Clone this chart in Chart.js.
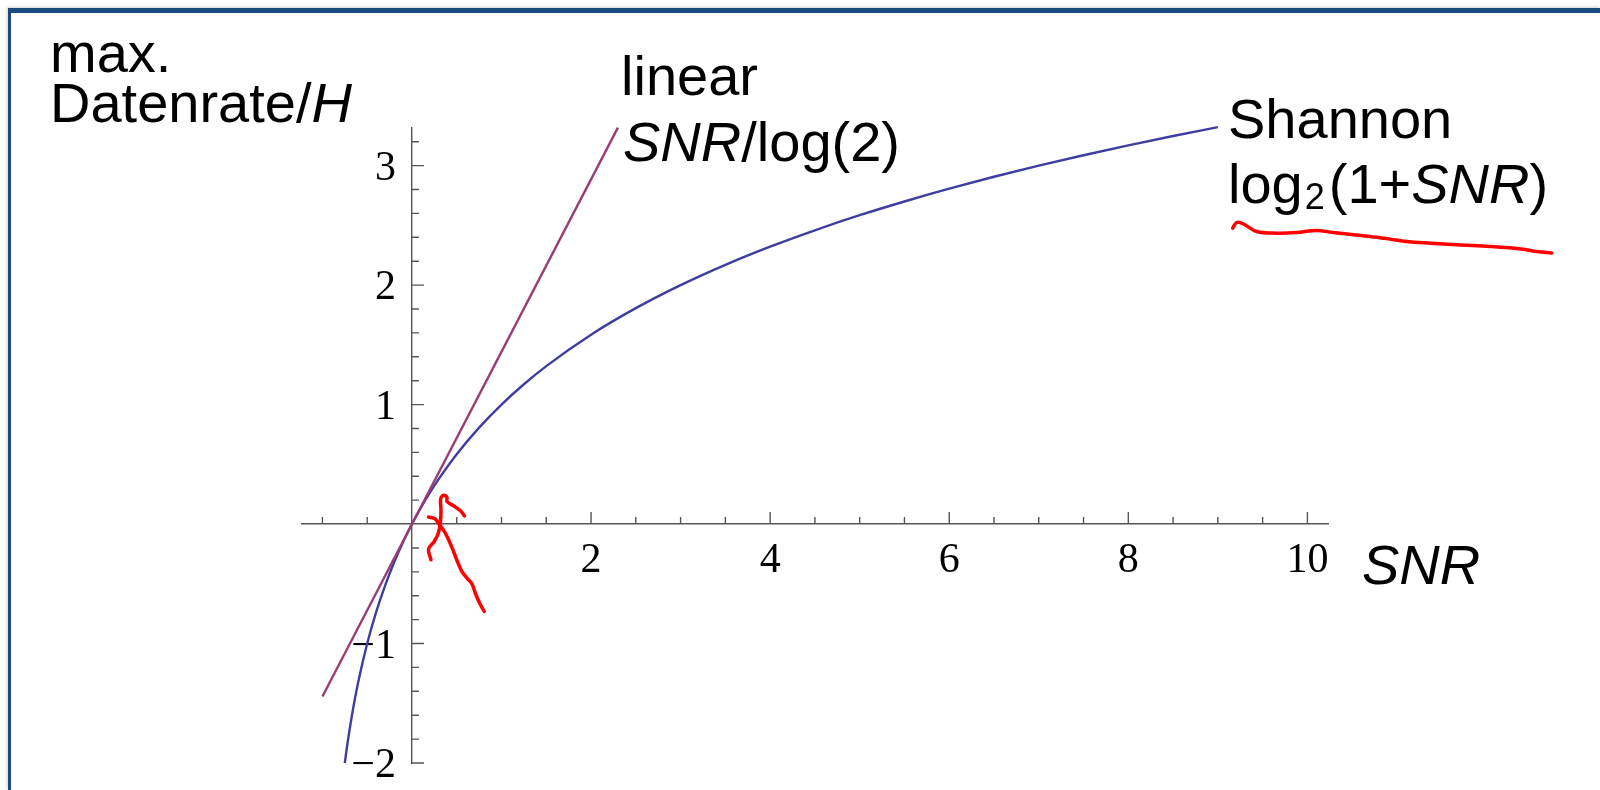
<!DOCTYPE html>
<html>
<head>
<meta charset="utf-8">
<script src="https://cdn.jsdelivr.net/npm/chart.js@4.4.1/dist/chart.umd.min.js"></script>
<style>
  html, body { margin:0; padding:0; background:#fff; width:1600px; height:790px; overflow:hidden; }
  #frame { position:absolute; left:8px; top:8px; width:1592px; height:782px; box-sizing:border-box;
           border-top:5px solid #1b4a7f; border-left:3px solid #1b4a7f;
           box-shadow:-1px -1px 3px rgba(0,0,0,0.18); }
  #c { position:absolute; left:0; top:0; }
  .lbl { position:absolute; font-family:"Liberation Sans", Arial, sans-serif; font-size:56px; line-height:56px;
         color:#000; white-space:nowrap; }
  .sub { font-size:36px; position:relative; top:6px; margin-left:2px; margin-right:4px; }
</style>
</head>
<body>
<div id="frame"></div>
<canvas id="c" width="1600" height="790"></canvas>
<div class="lbl" style="left:50px; top:25px;">max.</div>
<div class="lbl" style="left:50px; top:75px;">Datenrate/<i>H</i></div>
<div class="lbl" style="left:621px; top:48px;">linear</div>
<div class="lbl" style="left:623px; top:114px;"><i>SNR</i>/log(2)</div>
<div class="lbl" style="left:1228px; top:91px;">Shannon</div>
<div class="lbl" style="left:1228px; top:156px;">log<span class="sub">2</span>(1+<i>SNR</i>)</div>
<div class="lbl" style="left:1362px; top:537px;"><i>SNR</i></div>
<script>
// ---- data ----
const shannonX = [-0.75, -0.72, -0.7, -0.65, -0.6, -0.5, -0.4, -0.3, -0.2, -0.1, 0, 0.1, 0.2, 0.3, 0.5, 0.75, 1, 1.25, 1.5, 2, 2.5, 3, 3.5, 4, 4.5, 5, 5.5, 6, 6.5, 7, 7.5, 8, 8.5, 9];
const shannonY = [-2.0, -1.837, -1.737, -1.515, -1.322, -1.0, -0.737, -0.515, -0.322, -0.152, 0, 0.1375, 0.263, 0.3785, 0.585, 0.807, 1.0, 1.170, 1.322, 1.585, 1.807, 2.0, 2.170, 2.322, 2.459, 2.585, 2.700, 2.807, 2.907, 3.0, 3.087, 3.170, 3.248, 3.322];

const linearX = [-1.0, 2.3];
const linearY = [-1.443, 3.318];

// red hand-drawn marks
const scribbleAX = [0.212, 0.185, 0.249, 0.297, 0.319, 0.324, 0.319, 0.338, 0.368, 0.391, 0.391, 0.464, 0.539, 0.587];
const scribbleAY = [-0.299, -0.209, -0.146, -0.070, 0.022, 0.120, 0.203, 0.234, 0.239, 0.223, 0.189, 0.153, 0.114, 0.069];
const scribbleBX = [0.185, 0.260, 0.308, 0.361, 0.409, 0.464, 0.514, 0.558, 0.614, 0.670, 0.707, 0.755, 0.807];
const scribbleBY = [0.059, 0.042, -0.006, -0.062, -0.131, -0.229, -0.326, -0.397, -0.452, -0.500, -0.577, -0.661, -0.731];
const underlineX = [9.165, 9.210, 9.283, 9.433, 9.656, 9.879, 10.103, 10.288, 10.698, 10.921, 11.107, 11.666, 12.037, 12.409, 12.559, 12.726];
const underlineY = [2.477, 2.524, 2.513, 2.449, 2.435, 2.440, 2.457, 2.440, 2.407, 2.385, 2.365, 2.337, 2.323, 2.301, 2.281, 2.268];

// tick labels and tick marks
const xTickLabels = [2, 4, 6, 8, 10];
const yTickLabels = [-2, -1, 1, 2, 3];
const xMinorTicks = [-1, -0.5, 0.5, 1, 1.5, 2.5, 3, 3.5, 4.5, 5, 5.5, 6.5, 7, 7.5, 8.5, 9, 9.5];
const yMinorTicks = [-1.8, -1.6, -1.4, -1.2, -0.8, -0.6, -0.4, -0.2, 0.2, 0.4, 0.6, 0.8, 1.2, 1.4, 1.6, 1.8, 2.2, 2.4, 2.6, 2.8, 3.2];

const X_MIN = -1.228, X_MAX = 10.23, Y_MIN = -2, Y_MAX = 3.315;

const pts = (xs, ys) => xs.map((x, i) => ({ x: x, y: ys[i] }));

const AXIS_COLOR = '#555555';
const TICK_FONT = '42px "Liberation Serif", "Times New Roman", serif';
const fmt = v => (v < 0 ? '\u2212' + Math.abs(v) : String(v));

const axisDecor = {
  id: 'axisDecor',
  beforeDatasetsDraw(chart) {
    const { ctx, scales: { x, y } } = chart;
    const x0 = x.getPixelForValue(0);
    const y0 = y.getPixelForValue(0);
    ctx.save();
    ctx.strokeStyle = AXIS_COLOR;
    ctx.lineWidth = 1.4;
    ctx.beginPath();
    xTickLabels.forEach(v => { const px = x.getPixelForValue(v); ctx.moveTo(px, y0); ctx.lineTo(px, y0 - 12); });
    xMinorTicks.forEach(v => { const px = x.getPixelForValue(v); ctx.moveTo(px, y0); ctx.lineTo(px, y0 - 7); });
    yTickLabels.forEach(v => { const py = y.getPixelForValue(v); ctx.moveTo(x0, py); ctx.lineTo(x0 + 12, py); });
    yMinorTicks.forEach(v => { const py = y.getPixelForValue(v); ctx.moveTo(x0, py); ctx.lineTo(x0 + 7, py); });
    ctx.stroke();
    ctx.fillStyle = '#000';
    ctx.font = TICK_FONT;
    ctx.textBaseline = 'alphabetic';
    ctx.textAlign = 'center';
    xTickLabels.forEach(v => ctx.fillText(fmt(v), x.getPixelForValue(v), y0 + 48));
    ctx.textAlign = 'right';
    yTickLabels.forEach(v => ctx.fillText(fmt(v), x0 - 16, y.getPixelForValue(v) + 14));
    ctx.restore();
  }
};

new Chart(document.getElementById('c'), {
  type: 'line',
  data: {
    datasets: [
      { label: 'SNR/log(2)', data: pts(linearX, linearY), borderColor: '#993d74', borderWidth: 2.4,
        pointRadius: 0, tension: 0, clip: false },
      { label: 'log2(1+SNR)', data: pts(shannonX, shannonY), borderColor: '#3f3d9e', borderWidth: 2.4,
        pointRadius: 0, cubicInterpolationMode: 'monotone', clip: false },
      { label: 'mark A', data: pts(scribbleAX, scribbleAY), borderColor: '#ff0000', borderWidth: 3.5,
        pointRadius: 0, tension: 0.35, clip: false, borderCapStyle: 'round', borderJoinStyle: 'round' },
      { label: 'mark B', data: pts(scribbleBX, scribbleBY), borderColor: '#ff0000', borderWidth: 3.5,
        pointRadius: 0, tension: 0.35, clip: false, borderCapStyle: 'round', borderJoinStyle: 'round' },
      { label: 'underline', data: pts(underlineX, underlineY), borderColor: '#ff0000', borderWidth: 3.5,
        pointRadius: 0, tension: 0.35, clip: false, borderCapStyle: 'round', borderJoinStyle: 'round' }
    ]
  },
  options: {
    responsive: false,
    animation: false,
    devicePixelRatio: 1,
    layout: { padding: { left: 302, right: 272, top: 128, bottom: 27 } },
    plugins: { legend: { display: false }, tooltip: { enabled: false } },
    scales: {
      x: {
        type: 'linear', bounds: 'data', position: { y: 0 },
        afterDataLimits: s => { s.min = X_MIN; s.max = X_MAX; },
        afterBuildTicks: s => { s.ticks = xTickLabels.map(v => ({ value: v })); },
        grid: { display: false, drawTicks: false },
        border: { display: true, color: AXIS_COLOR, width: 1.4 },
        ticks: { display: false }
      },
      y: {
        type: 'linear', bounds: 'data', position: { x: 0 },
        afterDataLimits: s => { s.min = Y_MIN; s.max = Y_MAX; },
        afterBuildTicks: s => { s.ticks = yTickLabels.map(v => ({ value: v })); },
        grid: { display: false, drawTicks: false },
        border: { display: true, color: AXIS_COLOR, width: 1.4 },
        ticks: { display: false }
      }
    }
  },
  plugins: [axisDecor]
});
</script>
</body>
</html>
